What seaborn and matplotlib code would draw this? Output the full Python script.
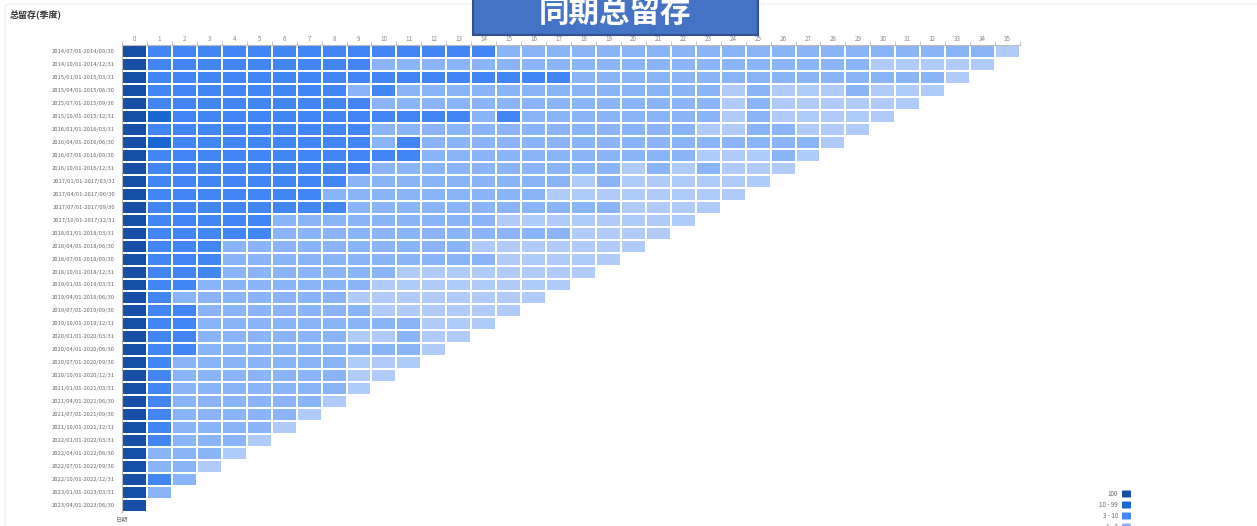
import numpy as np
import pandas as pd
import matplotlib.pyplot as plt
import seaborn as sns
from matplotlib.colors import ListedColormap
from matplotlib.patches import Rectangle, FancyBboxPatch

# cohort rows (quarters) and retention periods
cohorts = [
    '2014/07/01-2014/09/30', '2014/10/01-2014/12/31',
    '2015/01/01-2015/03/31', '2015/04/01-2015/06/30', '2015/07/01-2015/09/30', '2015/10/01-2015/12/31',
    '2016/01/01-2016/03/31', '2016/04/01-2016/06/30', '2016/07/01-2016/09/30', '2016/10/01-2016/12/31',
    '2017/01/01-2017/03/31', '2017/04/01-2017/06/30', '2017/07/01-2017/09/30', '2017/10/01-2017/12/31',
    '2018/01/01-2018/03/31', '2018/04/01-2018/06/30', '2018/07/01-2018/09/30', '2018/10/01-2018/12/31',
    '2019/01/01-2019/03/31', '2019/04/01-2019/06/30', '2019/07/01-2019/09/30', '2019/10/01-2019/12/31',
    '2020/01/01-2020/03/31', '2020/04/01-2020/06/30', '2020/07/01-2020/09/30', '2020/10/01-2020/12/31',
    '2021/01/01-2021/03/31', '2021/04/01-2021/06/30', '2021/07/01-2021/09/30', '2021/10/01-2021/12/31',
    '2022/01/01-2022/03/31', '2022/04/01-2022/06/30', '2022/07/01-2022/09/30', '2022/10/01-2022/12/31',
    '2023/01/01-2023/03/31', '2023/04/01-2023/06/30',
]
periods = [str(i) for i in range(36)]

# retention bucket per cell: 0 = <1, 1 = 1-3, 2 = 3-10, 3 = 10-99, 4 = 100
# (one string per cohort, grouped by 5 periods)
buckets = [
    "42222 22222 22222 11111 11111 11111 11111 0",
    "42222 22222 11111 11111 11111 11111 00000",
    "42222 22222 22222 22211 11111 11111 1110",
    "42222 22221 21111 11111 11110 10001 000",
    "42222 22222 11111 11111 11110 10000 00",
    "43222 22222 22221 21111 11110 10000 0",
    "42222 22222 11111 11111 11100 11000",
    "43222 22222 12111 11111 11111 1110",
    "42222 22222 22111 11111 11100 010",
    "42222 22222 11111 11111 01010 00",
    "42222 22221 11111 11101 00000 0",
    "42222 22211 11111 11000 00000",
    "42222 22221 11111 11111 0000",
    "42222 21111 11111 00000 000",
    "42222 21111 11111 11100 00",
    "42221 11111 11110 00000 0",
    "42221 11111 11111 00000",
    "42221 11111 10000 0000",
    "42211 11111 00000 000",
    "42111 11110 00000 00",
    "42211 11111 00000 0",
    "42211 11111 11000",
    "42211 11110 0100",
    "42211 11111 110",
    "42111 11110 00",
    "42111 11110 0",
    "42111 11110",
    "42111 1110",
    "42111 110",
    "42111 10",
    "42111 0",
    "41110",
    "4110",
    "421",
    "41",
    "4",
]
levels = ['0 - 1', '1 - 3', '3 - 10', '10 - 99', '100']
colors = ['#aecbfa', '#8ab4f8', '#4285f4', '#1967d2', '#174ea6']

grid = np.full((len(cohorts), len(periods)), np.nan)
for i, row in enumerate(buckets):
    vals = [int(c) for c in row.replace(' ', '')]
    grid[i, :len(vals)] = vals
df = pd.DataFrame(grid, index=cohorts, columns=periods)

sns.set_theme(style='white')
plt.rcParams['font.family'] = ['Noto Sans CJK SC', 'DejaVu Sans']

W, H = 1257, 526
fig = plt.figure(figsize=(W / 100, H / 100), dpi=100)
ax = fig.add_axes([122 / W, 1 - 512 / H, 898 / W, 467 / H])

sns.heatmap(df, ax=ax, cmap=ListedColormap(colors), vmin=-0.5, vmax=4.5,
            cbar=False, linewidths=1.2, linecolor='white',
            xticklabels=periods, yticklabels=cohorts)

# axes styling
ax.xaxis.tick_top()
ax.set_xlabel('')
ax.set_ylabel('')
ax.tick_params(axis='x', length=0, pad=1.5, labelsize=4.5, labelcolor='#888888')
ax.tick_params(axis='y', length=2, width=0.6, color='#bbbbbb', pad=3,
               labelsize=4.2, labelcolor='#666666', rotation=0)
ax.set_xticks(np.arange(len(periods) + 1), minor=True)
ax.tick_params(axis='x', which='minor', top=True, bottom=False, length=3,
               width=0.6, color='#bbbbbb')
for side, sp in ax.spines.items():
    sp.set_visible(side in ('top', 'left'))
    sp.set_color('#bbbbbb')
    sp.set_linewidth(0.8)

# card border and headings
fig.patches.append(FancyBboxPatch((5 / W, -0.02), 1.05, 1 - 4 / H + 0.02,
                                  boxstyle='round,pad=0,rounding_size=0.005',
                                  transform=fig.transFigure, facecolor='none',
                                  edgecolor='#eeeeee', lw=0.8))
fig.text(10 / W, 1 - 15 / H, '总留存(季度)', fontsize=6.5, fontweight='bold',
         color='#333333', ha='left', va='center')
fig.text(122 / W, 1 - 520 / H, '日期', fontsize=4.5, color='#777777',
         ha='center', va='center')

fig.patches.append(Rectangle((473 / W, 1 - 35 / H), 285 / W, 45 / H,
                             transform=fig.transFigure, facecolor='#4472c4',
                             edgecolor='#2f528f', lw=1.5))
fig.text(615 / W, 1 - 13 / H, '同期总留存', fontsize=22, fontweight='bold',
         color='white', ha='center', va='center')

# legend (bottom right, partly cut by the frame)
for k, (lab, col) in enumerate(zip(levels[::-1], colors[::-1])):
    y = 1 - (494 + 11 * k) / H
    fig.text(1118 / W, y, lab, fontsize=4.5, color='#666666', ha='right', va='center')
    fig.patches.append(FancyBboxPatch((1122 / W, y - 3.5 / H), 9 / W, 7 / H,
                                      boxstyle='round,pad=0,rounding_size=0.001',
                                      transform=fig.transFigure, facecolor=col,
                                      edgecolor='none'))

fig.savefig('out.png', dpi=100)
